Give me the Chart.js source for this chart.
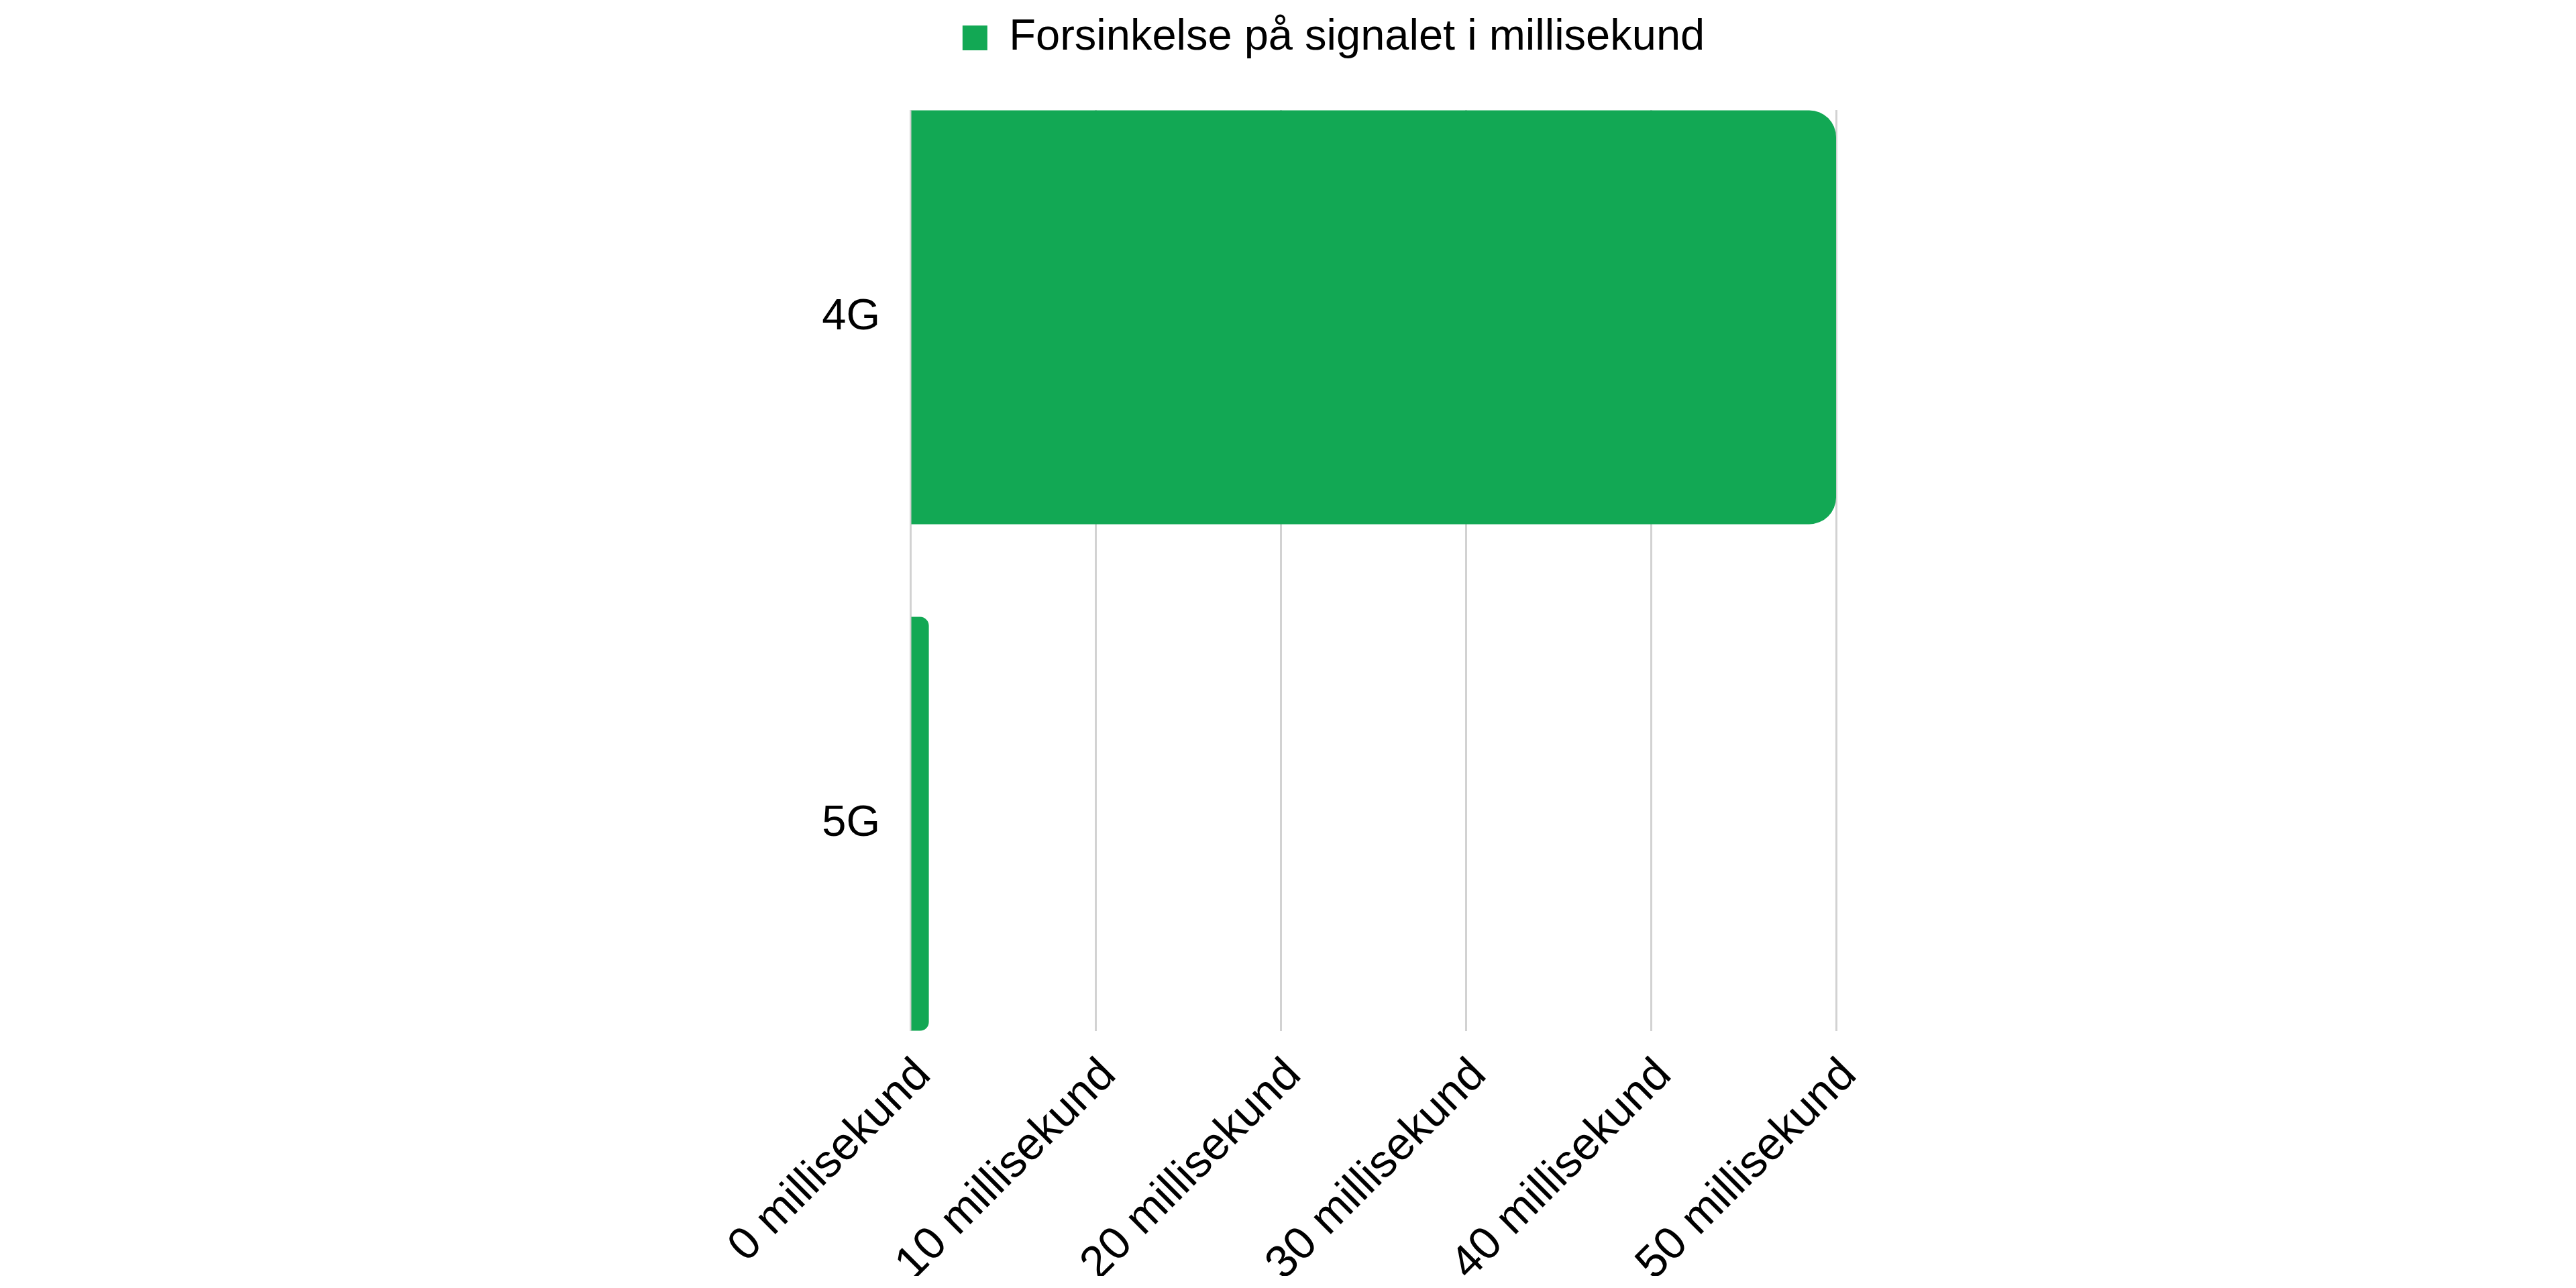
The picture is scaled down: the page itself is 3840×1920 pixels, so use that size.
<!DOCTYPE html>
<html>
<head>
<meta charset="utf-8">
<script src="https://cdn.jsdelivr.net/npm/chart.js@4.4.1/dist/chart.umd.min.js"></script>
<style>
  html,body{margin:0;padding:0;background:#fff;}
  #wrap{width:3840px;height:1920px;}
</style>
</head>
<body>
<div id="wrap"><canvas id="miGrafico" width="3840" height="1920"></canvas></div>
<script>
const kategorier = ['4G', '5G'];
const forsinkelse = [50, 1];
const serieNavn = 'Forsinkelse på signalet i millisekund';
const tickVerdier = [0, 10, 20, 30, 40, 50];
const tickEtiketter = ['0 millisekund', '10 millisekund', '20 millisekund', '30 millisekund', '40 millisekund', '50 millisekund'];

const GRONN = '#12a854';
const FONT = 'Liberation Sans, Arial, sans-serif';

// legenden skal ha fast hoyde slik at plottet starter lenger ned
const legendeHoyde = {
  id: 'legendeHoyde',
  beforeLayout(chart) {
    const lg = chart.legend;
    if (!lg || lg._patched) return;
    const orig = lg.fit.bind(lg);
    lg.fit = function () {
      orig();
      this.height = 150;
    };
    lg._patched = true;
  }
};

const ctx = document.getElementById('miGrafico').getContext('2d');
const miGrafico = new Chart(ctx, {
  type: 'bar',
  data: {
    datasets: [{
      label: serieNavn,
      data: forsinkelse.map((v, i) => ({ x: v, y: i })),
      backgroundColor: GRONN,
      borderWidth: 0,
      borderRadius: 40,
      borderSkipped: 'start',
      barPercentage: 0.817,
      categoryPercentage: 1
    }]
  },
  options: {
    indexAxis: 'y',
    responsive: false,
    devicePixelRatio: 1,
    animation: false,
    layout: {
      padding: { left: 1216, right: 1080, top: 14, bottom: 18 }
    },
    plugins: {
      legend: {
        display: true,
        position: 'top',
        labels: {
          boxWidth: 37,
          boxHeight: 37,
          padding: 10,
          color: '#000',
          font: { family: FONT, size: 65 }
        }
      },
      tooltip: { enabled: false }
    },
    scales: {
      x: {
        type: 'linear',
        min: 0,
        max: 50,
        afterBuildTicks(scale) {
          scale.ticks = tickVerdier.map(v => ({ value: v }));
        },
        afterFit(scale) {
          scale.paddingLeft = 0;
          scale.paddingRight = 1103;
          scale.height = 365;
        },
        grid: {
          display: true,
          color: '#d2d2d2',
          lineWidth: 3,
          drawTicks: false
        },
        border: { display: false },
        ticks: {
          autoSkip: false,
          minRotation: 45,
          maxRotation: 45,
          padding: 26,
          labelOffset: 20,
          color: '#000',
          font: { family: FONT, size: 68 },
          callback: (v, i) => tickEtiketter[i]
        }
      },
      y: {
        type: 'linear',
        offset: false,
        reverse: true,
        min: -0.409,
        max: 1.409,
        afterBuildTicks(scale) {
          scale.ticks = kategorier.map((k, i) => ({ value: i }));
        },
        afterFit(scale) {
          scale.width = 141;
        },
        grid: { display: false },
        border: { display: false },
        ticks: {
          padding: 37,
          color: '#000',
          font: { family: FONT, size: 65 },
          callback: (v, i) => kategorier[i]
        }
      }
    }
  },
  plugins: [legendeHoyde]
});
</script>
</body>
</html>
